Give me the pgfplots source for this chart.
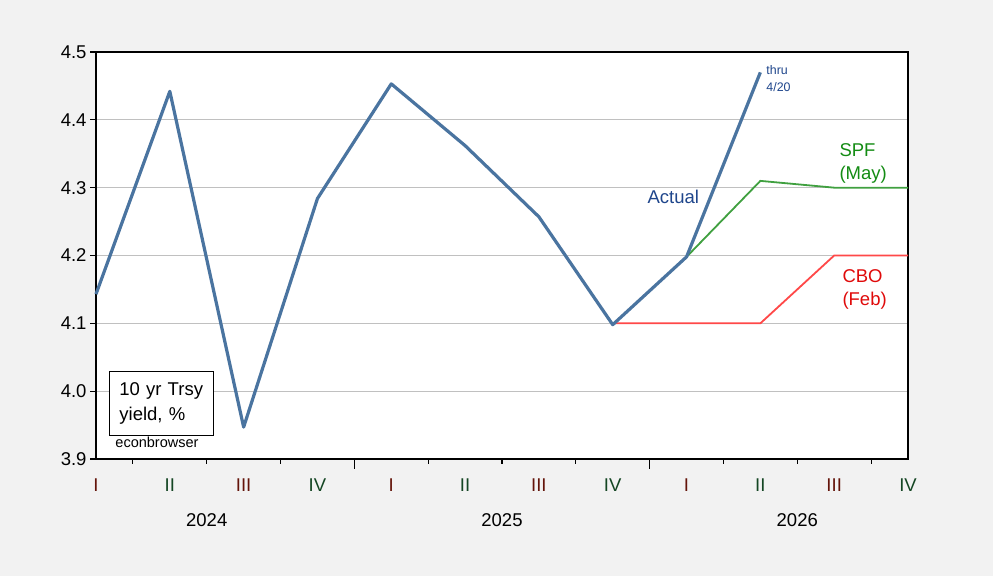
\documentclass[border=0pt]{standalone}
\usepackage{fontspec}
\setmainfont{Liberation Sans}
\usepackage{pgfplots}
\pgfplotsset{compat=1.18}

\definecolor{bg}{RGB}{242,242,242}
\definecolor{actual}{RGB}{74,116,160}
\definecolor{spf}{RGB}{64,160,64}
\definecolor{cbo}{RGB}{255,72,72}
\definecolor{actualtxt}{RGB}{31,70,140}
\definecolor{spftxt}{RGB}{20,140,20}
\definecolor{cbotxt}{RGB}{224,10,10}
\definecolor{qodd}{RGB}{100,20,10}
\definecolor{qeven}{RGB}{20,70,35}
\definecolor{gridc}{RGB}{192,192,192}

\newcommand\lbl{\fontsize{18.5bp}{25bp}\selectfont}

\begin{document}
\begin{tikzpicture}
\fill[bg] (0,0) rectangle (993bp,576bp);
\begin{axis}[
    at={(96bp,117bp)}, anchor=south west,
    scale only axis, width=812bp, height=407bp,
    xmin=0, xmax=11, ymin=3.9, ymax=4.5,
    clip=false,
    axis background/.style={fill=white},
    axis line style={line width=1.1bp, black},
    tick align=outside,
    xtick pos=bottom, ytick pos=left,
    xtick={0,...,11},
    xticklabels={\textcolor{qodd}{I},\textcolor{qeven}{II},\textcolor{qodd}{III},\textcolor{qeven}{IV},
                 \textcolor{qodd}{I},\textcolor{qeven}{II},\textcolor{qodd}{III},\textcolor{qeven}{IV},
                 \textcolor{qodd}{I},\textcolor{qeven}{II},\textcolor{qodd}{III},\textcolor{qeven}{IV}},
    major x tick style={draw=none},
    minor xtick={0.5,1.5,2.5,4.5,5.5,6.5,8.5,9.5,10.5},
    minor tick length=5bp,
    minor x tick style={line width=1.1bp, black},
    major tick length=6bp,
    major y tick style={line width=1.1bp, black},
    ytick={3.9,4.0,4.1,4.2,4.3,4.4,4.5},
    yticklabel style={/pgf/number format/fixed, /pgf/number format/precision=1,
        /pgf/number format/fixed zerofill, /pgf/number format/assume math mode=true},
    every tick label/.append style={font=\lbl, text=black},
    xticklabel style={yshift=-10bp},
    ymajorgrids,
    grid style={gridc, line width=0.9bp},
]
\addplot[cbo, line width=1.8bp] coordinates {(7,4.10) (8,4.10) (9,4.10) (10,4.20) (11,4.20)};
\addplot[spf, line width=1.8bp] coordinates {(8,4.198) (9,4.31) (10,4.30) (11,4.30)};
\addplot[actual, line width=3.2bp, line join=round] coordinates {
    (0,4.143) (1,4.442) (2,3.947) (3,4.284) (4,4.453) (5,4.362)
    (6,4.257) (7,4.098) (8,4.198) (9,4.470)};

\draw[line width=1.1bp] (axis cs:3.5,3.9) -- ([yshift=-10bp]axis cs:3.5,3.9);
\draw[line width=1.1bp] (axis cs:7.5,3.9) -- ([yshift=-10bp]axis cs:7.5,3.9);

\node[font=\lbl] at ([yshift=-61bp]axis cs:1.5,3.9) {2024};
\node[font=\lbl] at ([yshift=-61bp]axis cs:5.5,3.9) {2025};
\node[font=\lbl] at ([yshift=-61bp]axis cs:9.5,3.9) {2026};

\node[font=\fontsize{12.4bp}{15bp}\selectfont, text=actualtxt, anchor=west, inner sep=0pt] at (axis cs:9.08,4.474) {thru};
\node[font=\fontsize{12.4bp}{15bp}\selectfont, text=actualtxt, anchor=west, inner sep=0pt] at (axis cs:9.08,4.449) {4/20};
\node[font=\lbl, text=actualtxt] at (axis cs:7.82,4.287) {Actual};
\node[font=\lbl, text=spftxt, anchor=west, inner sep=0pt] at (axis cs:10.07,4.356) {SPF};
\node[font=\lbl, text=spftxt, anchor=west, inner sep=0pt] at (axis cs:10.07,4.319) {(May)};
\node[font=\lbl, text=cbotxt, anchor=west, inner sep=0pt] at (axis cs:10.11,4.170) {CBO};
\node[font=\lbl, text=cbotxt, anchor=west, inner sep=0pt] at (axis cs:10.11,4.133) {(Feb)};

\node[draw=black, line width=0.9bp, fill=white, anchor=north west, font=\lbl,
      text width=84bp, align=left, inner xsep=10bp, minimum height=64bp]
    at (axis cs:0.176,4.029) {10 yr Trsy\\yield, \%};
\node[font=\fontsize{14.5bp}{17bp}\selectfont] at (axis cs:0.826,3.924) {econbrowser};
\end{axis}
\end{tikzpicture}
\end{document}
